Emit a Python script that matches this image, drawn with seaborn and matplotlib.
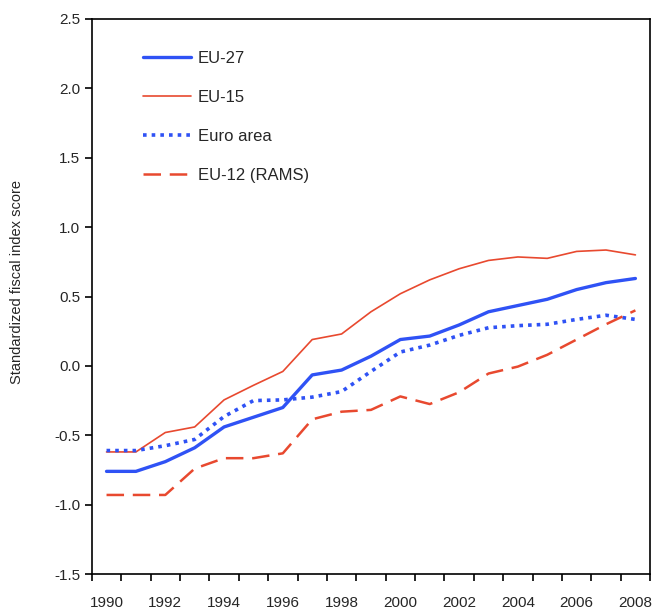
import numpy as np
import pandas as pd
import seaborn as sns
import matplotlib.pyplot as plt

# values
years = list(range(1990, 2009))
eu27 = [-0.76, -0.76, -0.69, -0.59, -0.44, -0.37, -0.30, -0.065, -0.03, 0.07,
        0.19, 0.215, 0.295, 0.39, 0.435, 0.48, 0.55, 0.60, 0.63]
eu15 = [-0.62, -0.62, -0.48, -0.44, -0.245, -0.14, -0.04, 0.19, 0.23, 0.39,
        0.52, 0.62, 0.70, 0.76, 0.785, 0.775, 0.825, 0.835, 0.80]
euro_area = [-0.61, -0.61, -0.575, -0.53, -0.365, -0.25, -0.245, -0.225, -0.185, -0.04,
             0.10, 0.15, 0.22, 0.275, 0.29, 0.30, 0.335, 0.365, 0.335]
eu12 = [-0.93, -0.93, -0.93, -0.74, -0.665, -0.665, -0.63, -0.385, -0.33, -0.317,
        -0.22, -0.275, -0.19, -0.055, -0.005, 0.08, 0.19, 0.30, 0.40]

series_names = ['EU-27', 'EU-15', 'Euro area', 'EU-12 (RAMS)']
year_labels = [str(y) for y in range(1990, 2009, 2)]
y_ticks = [-1.5, -1.0, -0.5, 0.0, 0.5, 1.0, 1.5, 2.0, 2.5]

blue = '#2f52f5'
red = '#e8492f'

sns.set_style('ticks')
plt.rcParams['font.family'] = ['Liberation Sans', 'DejaVu Sans']
plt.rcParams['axes.unicode_minus'] = False

fig = plt.figure(figsize=(6.56, 6.12), dpi=100)
ax = fig.add_axes([0.140, 0.062, 0.851, 0.907])

styles = [
    (eu27, dict(color=blue, lw=2.4, linestyle='-')),
    (eu15, dict(color=red, lw=1.2, linestyle='-')),
    (euro_area, dict(color=blue, lw=2.6, linestyle=(0, (1, 1.4)))),
    (eu12, dict(color=red, lw=1.8, linestyle=(0, (7, 3.5)))),
]
for name, (vals, kw) in zip(series_names, styles):
    df = pd.DataFrame({'year': years, 'score': vals})
    sns.lineplot(data=df, x='year', y='score', ax=ax, label=name, **kw)

ax.set_xlim(1989.5, 2008.5)
ax.set_ylim(-1.5, 2.5)
ax.set_yticks(y_ticks)
ax.set_yticklabels([f'{v:.1f}' for v in y_ticks], fontsize=11)

# year labels sit in the middle of each bin, ticks mark the bin edges
ax.set_xticks(range(1990, 2009, 2))
ax.set_xticklabels(year_labels, fontsize=11)
ax.set_xticks(np.arange(1989.5, 2009, 1), minor=True)
ax.tick_params(axis='x', which='major', length=0, pad=16)
ax.tick_params(axis='x', which='minor', length=5, width=1.2, color='black')
ax.tick_params(axis='y', length=5, width=1.2, color='black')

for s in ax.spines.values():
    s.set_color('black')
    s.set_linewidth(1.2)

ax.set_xlabel('')
ax.set_ylabel('Standardized fiscal index score', fontsize=10.5)
ax.yaxis.set_label_coords(-0.122, 0.526)

ax.legend(loc='upper left', bbox_to_anchor=(0.064, 0.969), frameon=False,
          fontsize=12, handlelength=2.9, labelspacing=1.43, handletextpad=0.4)

plt.savefig('out.png', dpi=100)
